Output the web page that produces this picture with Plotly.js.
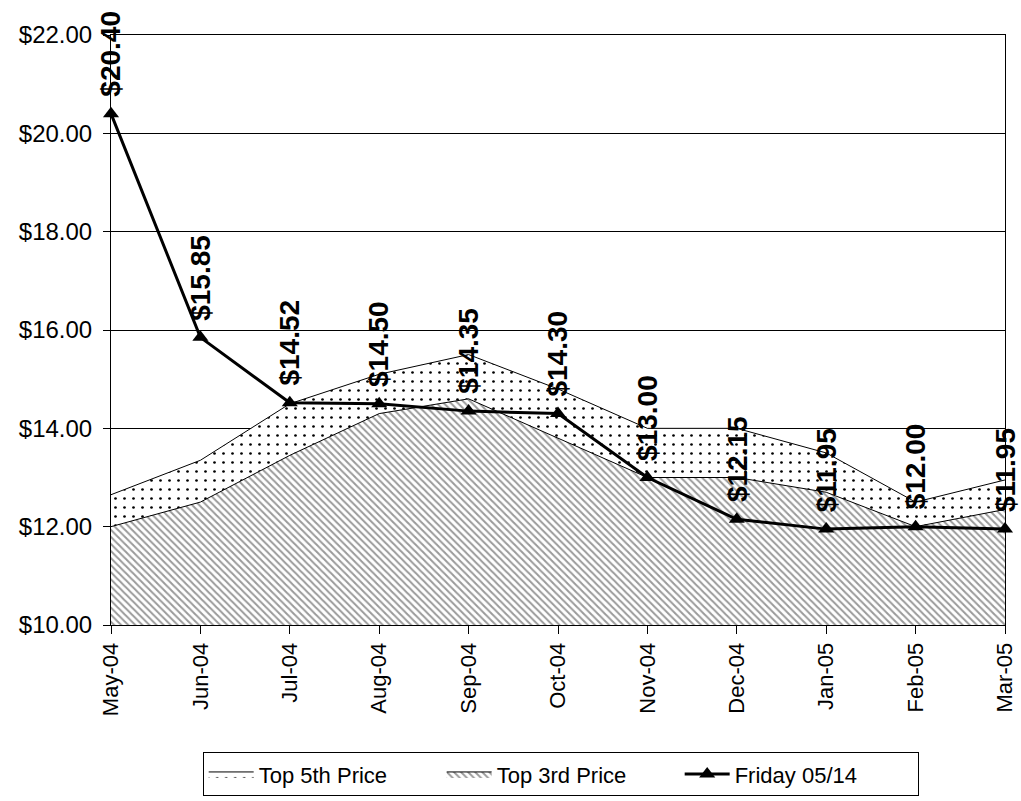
<!DOCTYPE html>
<html>
<head>
<meta charset="utf-8">
<script src="https://cdn.plot.ly/plotly-3.0.1.min.js"></script>
<style>
html,body{margin:0;padding:0;background:#fff;}
#chart{width:1021px;height:801px;}
</style>
</head>
<body>
<div id="chart"></div>
<script>
// ---- data ----
var months = ['May-04','Jun-04','Jul-04','Aug-04','Sep-04','Oct-04','Nov-04','Dec-04','Jan-05','Feb-05','Mar-05'];
var top5th = [12.65, 13.35, 14.50, 15.10, 15.50, 14.80, 14.00, 14.00, 13.50, 12.50, 12.95];
var top3rd = [12.00, 12.50, 13.45, 14.30, 14.60, 13.80, 13.00, 13.00, 12.70, 12.00, 12.35];
var friday = [20.40, 15.85, 14.52, 14.50, 14.35, 14.30, 13.00, 12.15, 11.95, 12.00, 11.95];
var seriesNames = ['Top 5th Price', 'Top 3rd Price', 'Friday 05/14'];
var yTicks = [10, 12, 14, 16, 18, 20, 22];

var FONT = '"Liberation Sans", Arial, sans-serif';

var traces = [
  {
    x: months, y: top5th, name: seriesNames[0], type: 'scatter', mode: 'lines',
    fill: 'tozeroy', fillcolor: 'white',
    fillpattern: {shape: '.', fgcolor: '#000000', bgcolor: '#ffffff', size: 9, solidity: 0.07},
    line: {color: '#000000', width: 1}, hoverinfo: 'skip'
  },
  {
    x: months, y: top3rd, name: seriesNames[1], type: 'scatter', mode: 'lines',
    fill: 'tozeroy', fillcolor: 'white',
    fillpattern: {shape: '\\', fgcolor: '#9a9a9a', bgcolor: '#ffffff', size: 5, solidity: 0.4},
    line: {color: '#000000', width: 1}, hoverinfo: 'skip'
  },
  {
    x: months, y: friday, name: seriesNames[2], type: 'scatter', mode: 'lines+markers',
    line: {color: '#000000', width: 3},
    marker: {symbol: 'triangle-up', size: 14, color: '#000000'},
    cliponaxis: false, hoverinfo: 'skip'
  }
];

var annotations = months.map(function (m, i) {
  return {
    x: m, y: friday[i], xref: 'x', yref: 'y',
    text: '$' + friday[i].toFixed(2),
    showarrow: false, textangle: -90,
    xanchor: 'center', yanchor: 'bottom', yshift: 15,
    font: {family: FONT, size: 28, color: '#000000', weight: 'bold'}
  };
});

var layout = {
  width: 1021, height: 801,
  paper_bgcolor: '#ffffff', plot_bgcolor: '#ffffff',
  margin: {l: 111, r: 16, t: 35, b: 176, autoexpand: false},
  font: {family: FONT, size: 22, color: '#000000'},
  showlegend: true,
  legend: {
    orientation: 'h', x: 0.503, xanchor: 'center',
    yref: 'container', y: 0.061, yanchor: 'top',
    bgcolor: '#ffffff', bordercolor: '#000000', borderwidth: 1,
    font: {family: FONT, size: 22, color: '#000000'},
    itemwidth: 45, entrywidth: 178, entrywidthmode: 'pixels',
    tracegroupgap: 0, traceorder: 'normal'
  },
  xaxis: {
    type: 'category', range: [0, months.length - 1], automargin: false,
    tickangle: -90, ticks: 'outside', ticklen: 8, tickcolor: '#000000',
    showline: true, linecolor: '#000000', linewidth: 1, mirror: true,
    showgrid: false, zeroline: false,
    tickfont: {family: FONT, size: 22, color: '#000000'}
  },
  yaxis: {
    range: [10, 22], tickvals: yTicks, tickformat: '$.2f', automargin: false,
    ticks: 'outside', ticklen: 7, tickcolor: '#000000', ticklabelstandoff: 6,
    showline: true, linecolor: '#000000', linewidth: 1, mirror: true,
    showgrid: true, gridcolor: '#000000', gridwidth: 1, zeroline: false,
    tickfont: {family: FONT, size: 24, color: '#000000'}
  },
  annotations: annotations
};

Plotly.newPlot('chart', traces, layout, {displayModeBar: false, staticPlot: true});
</script>
</body>
</html>
